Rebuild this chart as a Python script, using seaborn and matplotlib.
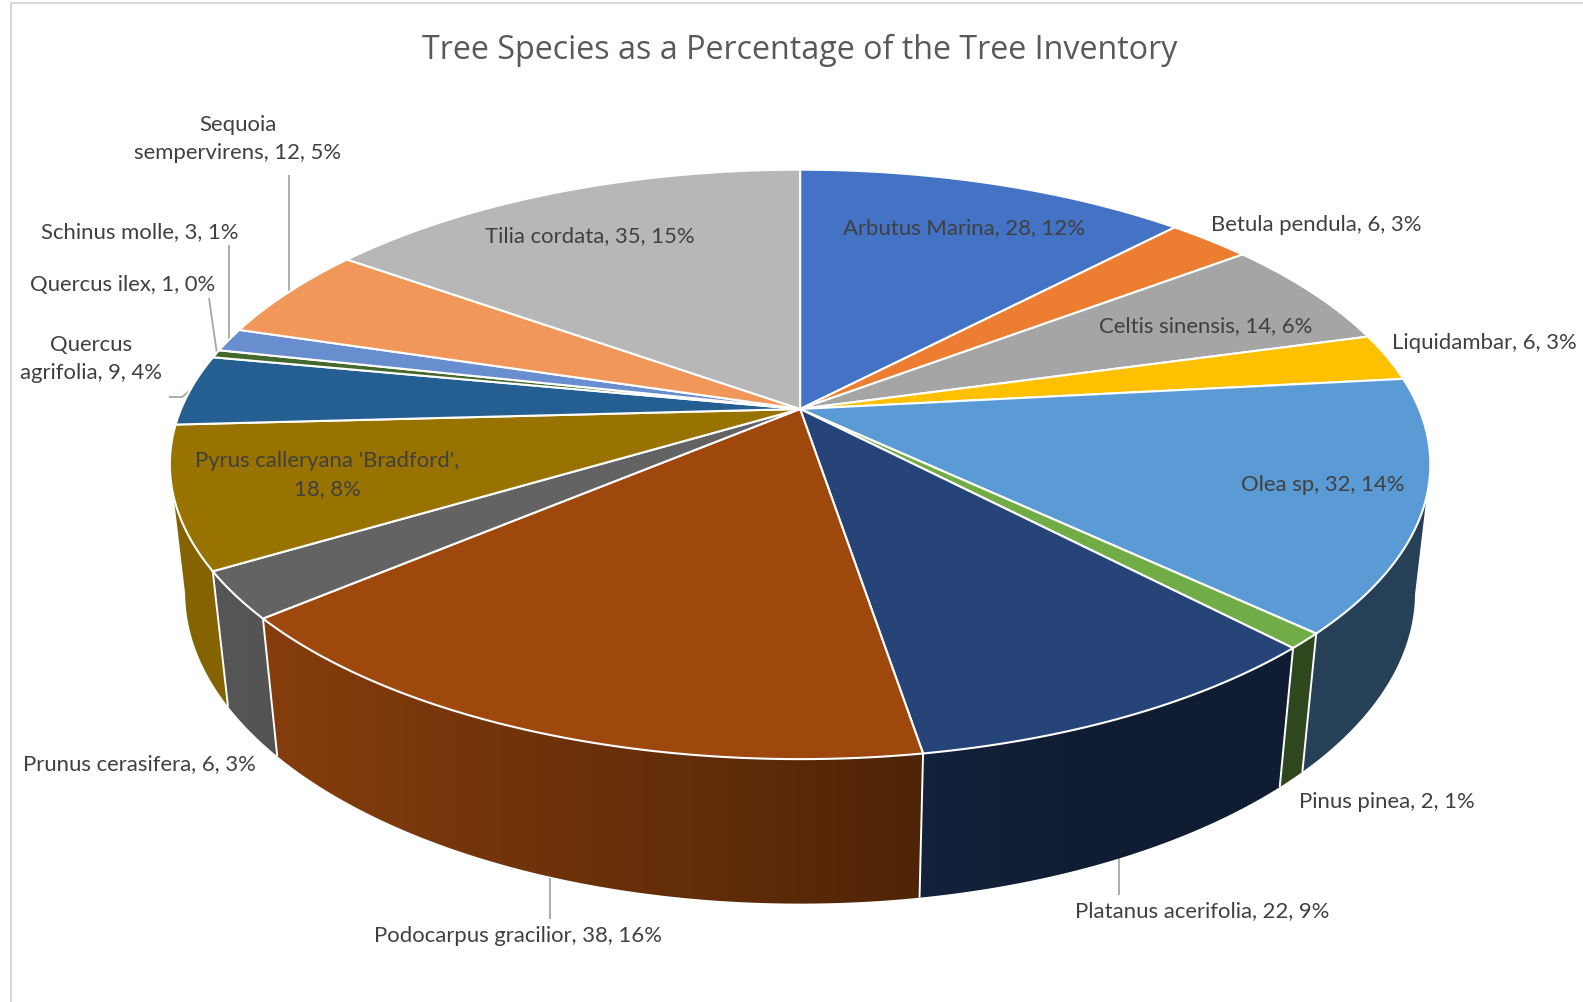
import numpy as np
import matplotlib
matplotlib.use("Agg")
import matplotlib.pyplot as plt
from matplotlib.collections import PolyCollection
from matplotlib.path import Path
import seaborn as sns

# Inventory counts per species, clockwise from twelve o'clock
species = ["Arbutus Marina", "Betula pendula", "Celtis sinensis", "Liquidambar",
           "Olea sp", "Pinus pinea", "Platanus acerifolia", "Podocarpus gracilior",
           "Prunus cerasifera", "Pyrus calleryana 'Bradford'", "Quercus agrifolia",
           "Quercus ilex", "Schinus molle", "Sequoia sempervirens", "Tilia cordata"]
counts = [28, 6, 14, 6, 32, 2, 22, 38, 6, 18, 9, 1, 3, 12, 35]
percents = [12, 3, 6, 3, 14, 1, 9, 16, 3, 8, 4, 0, 1, 5, 15]
slice_colors = ["#4472C4", "#ED7D31", "#A5A5A5", "#FFC000", "#5B9BD5", "#70AD47",
                "#264478", "#9E480E", "#636363", "#997300", "#255E91", "#43682B",
                "#698ED0", "#F1975A", "#B7B7B7"]

W, H = 1583, 1003
sns.set_theme(style="white")
plt.rcParams["font.family"] = ["Lato", "DejaVu Sans"]
palette = sns.color_palette(slice_colors)

fig = plt.figure(figsize=(W / 100, H / 100), dpi=100, facecolor="white")
ax = fig.add_axes([0, 0, 1, 1])
ax.set_xlim(0, W)
ax.set_ylim(H, 0)
ax.axis("off")

# Perspective view of a disc: level 0 is the top face, level 1 the bottom face
CX, CY = 800.1, 410.0
RX, RY = 619.0, 284.3
DROP = 129.2
PERSP, PERSP_DEPTH = 0.188, 0.024
SILHOUETTE = -0.188
BAND = 6


def project(theta, level=0.0):
    depth = np.cos(theta)
    w = 1 + PERSP * depth + PERSP_DEPTH * level
    return CX + RX * np.sin(theta) / w, CY - (RY * depth - DROP * level) / w


def side_shade(x):
    return float(np.clip(0.56 - 0.33 * (x - CX) / RX, 0.41, 0.86))


edges = np.concatenate([[0], np.cumsum(counts)]) / np.sum(counts) * 2 * np.pi

# Rim wall: vertical shading bands over the camera-facing part of each slice,
# clipped to its outline (straight along the disc's tangent where it turns away)
spans = list(zip(edges[:-1], edges[1:], palette))
for start, stop, color in spans:
    fine = np.linspace(start, stop, 300)
    fine = fine[np.cos(fine) < SILHOUETTE]
    if fine.size < 2:
        continue
    top_x, top_y = project(fine)
    low_x, low_y = project(fine[::-1], 1)
    out_x = np.r_[top_x, low_x, top_x[0]]
    out_y = np.r_[top_y, low_y, top_y[0]]
    outline = Path(np.column_stack([out_x, out_y]), closed=True)
    left = np.arange(np.floor(out_x.min()), out_x.max() + BAND, BAND)
    bands = [[(x, out_y.min()), (x + BAND, out_y.min()),
              (x + BAND, out_y.max()), (x, out_y.max())] for x in left]
    colors = [tuple(c * side_shade(x + BAND / 2) for c in color) for x in left]
    wall = PolyCollection(bands, facecolors=colors, edgecolors="none",
                          antialiaseds=False, zorder=2)
    ax.add_collection(wall)
    wall.set_clip_path(outline, ax.transData)

# White seams between neighbouring slices on the visible part of the wall
for angle in edges[:-1]:
    if np.cos(angle) < SILHOUETTE:
        x0, y0 = project(angle)
        x1, y1 = project(angle, 1)
        ax.plot([x0, x1], [y0, y1], color="white", lw=1.4, zorder=3,
                solid_capstyle="butt")

# Top face
for start, stop, color in spans:
    grid = np.linspace(start, stop, max(3, int(np.degrees(stop - start) * 2)))
    xs, ys = project(grid)
    ax.fill(np.r_[CX, xs], np.r_[CY, ys], facecolor=color, edgecolor="white",
            lw=1.5, joinstyle="miter", zorder=4)

# Value labels, with the long names broken over two lines
label_text = [f"{s}, {c}, {p}%" for s, c, p in zip(species, counts, percents)]
label_text[9] = "Pyrus calleryana 'Bradford',\n18, 8%"
label_text[10] = "Quercus\nagrifolia, 9, 4%"
label_text[13] = "Sequoia\nsempervirens, 12, 5%"
label_x = [964, 1316, 1206, 1484, 1323, 1387, 1202, 518, 139, 327, 91, 123, 140, 238, 590]
label_y = [228, 225, 326, 343, 485, 802, 911, 936, 764, 475, 358.5, 285, 232, 138.5, 236]
for text, x, y in zip(label_text, label_x, label_y):
    ax.text(x, y, text, ha="center", va="center", fontsize=15.9, color="#404040",
            linespacing=1.5, zorder=6)

ax.text(800, 50.5, "Tree Species as a Percentage of the Tree Inventory", ha="center",
        va="center", fontsize=23.2, color="#595959", family=["Open Sans", "DejaVu Sans"],
        zorder=6)

# Leader lines
leaders = [([289, 289], [176, 293]),
           ([229.5, 229.5], [246, 340]),
           ([209, 217], [299, 355]),
           ([169, 182, 192], [398, 398, 390]),
           ([550, 550], [879, 920]),
           ([1118.6, 1118.6], [858, 896])]
for xs, ys in leaders:
    ax.plot(xs, ys, color="#a6a6a6", lw=1.3, zorder=1, solid_capstyle="butt")

# Chart frame along the left and top
ax.plot([11, 11, W], [H, 4, 4], color="#d9d9d9", lw=1.5, zorder=0,
        solid_joinstyle="miter")

fig.savefig("out.png", dpi=100, facecolor="white")
